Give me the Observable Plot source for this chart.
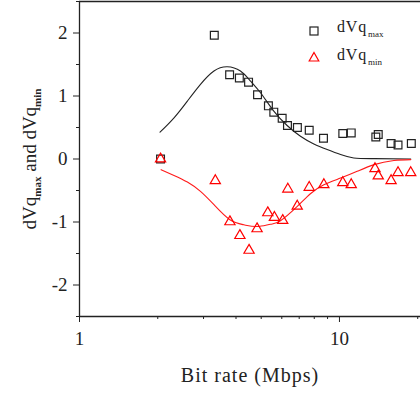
<!DOCTYPE html>
<html>
<head>
<meta charset="utf-8">
<script src="https://cdn.jsdelivr.net/npm/d3@7"></script>
<script src="https://cdn.jsdelivr.net/npm/@observablehq/plot@0.6"></script>
<style>
  html, body { margin: 0; padding: 0; background: #fff; }
  #wrap { position: relative; width: 420px; height: 394px; overflow: hidden; font-family: "Liberation Serif", "Times New Roman", serif; }
  .leg { position: absolute; font-size: 16px; color: #222; letter-spacing: 0.8px; white-space: nowrap; }
  .leg sub { font-size: 9px; vertical-align: -5px; letter-spacing: 0; margin-left: 1px; }
  .sym { position: absolute; }
</style>
</head>
<body>
<div id="wrap"></div>
<script>
// Bit rate (Mbps) of measured points
const maxX = [2.05, 3.30, 3.78, 4.12, 4.47, 4.84, 5.33, 5.59, 6.02, 6.31, 6.89, 7.65, 8.68, 10.3, 11.1, 14.1, 13.8, 15.8, 16.8, 18.9];
const maxY = [0.0, 1.965, 1.338, 1.285, 1.22, 1.02, 0.844, 0.744, 0.648, 0.532, 0.50, 0.457, 0.33, 0.404, 0.414, 0.388, 0.35, 0.245, 0.223, 0.245];

const minX = [2.05, 3.33, 3.79, 4.14, 4.49, 4.82, 5.30, 5.62, 6.05, 6.33, 6.88, 7.65, 8.71, 10.3, 11.1, 13.7, 14.1, 15.8, 16.8, 18.8];
const minY = [0.0, -0.344, -0.997, -1.215, -1.449, -1.108, -0.854, -0.928, -0.976, -0.478, -0.748, -0.45, -0.408, -0.376, -0.408, -0.153, -0.27, -0.344, -0.217, -0.217];

// fitted curves
const fitMaxX = [2.04, 2.31, 2.60, 2.92, 3.29, 3.70, 4.16, 4.55, 4.97, 5.59, 6.29, 7.08, 7.97, 8.97, 10.1, 11.35, 13.6, 18.8];
const fitMaxY = [0.425, 0.653, 0.919, 1.185, 1.397, 1.465, 1.397, 1.237, 1.051, 0.76, 0.532, 0.361, 0.239, 0.15, 0.07, 0.016, 0.006, 0.0];

const fitMinX = [2.06, 2.31, 2.60, 2.92, 3.29, 3.79, 4.29, 4.82, 5.43, 5.93, 6.88, 7.73, 8.71, 10.1, 11.7, 13.6, 16.2, 18.8];
const fitMinY = [-0.169, -0.26, -0.366, -0.514, -0.726, -0.965, -1.045, -1.072, -1.035, -0.981, -0.753, -0.551, -0.408, -0.303, -0.196, -0.089, -0.025, -0.01];

const xMajor = [1, 10];
const xMinor = [2, 3, 4, 5, 6, 7, 8, 9, 20];
const yMajor = [-2, -1, 0, 1, 2];
const yMinor = [-2.5, -1.5, -0.5, 0.5, 1.5, 2.5];

const xLabel = "Bit rate (Mbps)";
const seriesNames = ["max", "min"];

const zip = (xs, ys) => xs.map((x, i) => ({x, y: ys[i]}));
const ptsMax = zip(maxX, maxY);
const ptsMin = zip(minX, minY);
const curMax = zip(fitMaxX, fitMaxY);
const curMin = zip(fitMinX, fitMinY);

const chart = Plot.plot({
  width: 420,
  height: 394,
  marginLeft: 79,
  marginRight: 0,
  marginTop: 1,
  marginBottom: 78,
  style: { fontFamily: '"Liberation Serif", "Times New Roman", serif', fontSize: "19px", color: "#222", background: "#fff", overflow: "visible" },
  x: { type: "log", domain: [1, 20.5] },
  y: { domain: [-2.5, 2.5] },
  marks: [
    Plot.axisX({ ticks: xMajor, tickSize: 6, tickPadding: 9, tickFormat: d => String(d), label: xLabel, labelAnchor: "center", labelOffset: 65, labelArrow: false, fontSize: 19 }),
    Plot.axisX({ ticks: xMinor, tickSize: 3, tickFormat: () => "", label: null }),
    Plot.axisY({ ticks: yMajor, tickSize: 6, tickPadding: 6, tickFormat: d => String(d), label: "dVq max and dVq min", labelAnchor: "center", labelOffset: 57, labelArrow: false, fontSize: 19 }),
    Plot.axisY({ ticks: yMinor, tickSize: 3, tickFormat: () => "", label: null }),
    Plot.ruleX([1], { stroke: "#222", strokeWidth: 1.3 }),
    Plot.ruleY([-2.5], { stroke: "#222", strokeWidth: 1.3 }),
    Plot.ruleY([2.5], { stroke: "#222", strokeWidth: 1.3 }),
    Plot.line(curMax, { x: "x", y: "y", curve: "natural", stroke: "#222", strokeWidth: 1.1 }),
    Plot.dot(ptsMax, { x: "x", y: "y", symbol: "square", r: 4.4, stroke: "#222", strokeWidth: 1.2, fill: "none" }),
    Plot.line(curMin, { x: "x", y: "y", curve: "natural", stroke: "#ff1a1a", strokeWidth: 1.1 }),
    Plot.dot(ptsMin, { x: "x", y: "y", symbol: "triangle", r: 3.8, stroke: "#ff0000", strokeWidth: 1.2, fill: "none" })
  ]
});

const wrap = document.getElementById("wrap");
wrap.appendChild(chart);

// x-axis label styling
const xlab = chart.querySelector('g[aria-label="x-axis label"] text');
if (xlab) {
  xlab.setAttribute("font-size", 20);
  xlab.style.fontSize = "20px";
  xlab.style.letterSpacing = "1px";
}

// y-axis label with subscripts
const ylab = chart.querySelector('g[aria-label="y-axis label"] text');
if (ylab) {
  ylab.textContent = "";
  const NS = "http://www.w3.org/2000/svg";
  const parts = [["dVq", 0, null], ["max", 5, 11], [" and dVq", -5, null], ["min", 5, 11]];
  for (const [t, dy, fs] of parts) {
    const ts = document.createElementNS(NS, "tspan");
    ts.textContent = t;
    if (dy) ts.setAttribute("dy", dy);
    if (fs) { ts.setAttribute("font-size", fs); ts.setAttribute("font-weight", "bold"); }
    ylab.appendChild(ts);
  }
}

// legend
const legend = [
  { name: seriesNames[0], top: 18, sym: '<rect x="2" y="2" width="8" height="8" fill="none" stroke="#222" stroke-width="1.2"/>', symTop: 23 },
  { name: seriesNames[1], top: 46, sym: '<path d="M6,1.5 L10.8,10 L1.2,10 Z" fill="none" stroke="#ff0000" stroke-width="1.2"/>', symTop: 49 }
];
for (const l of legend) {
  const s = document.createElement("div");
  s.className = "sym";
  s.style.left = "308px";
  s.style.top = l.symTop + "px";
  s.innerHTML = '<svg width="12" height="12">' + l.sym + '</svg>';
  wrap.appendChild(s);
  const t = document.createElement("div");
  t.className = "leg";
  t.style.left = "337px";
  t.style.top = l.top + "px";
  t.innerHTML = 'dVq<sub>' + l.name + '</sub>';
  wrap.appendChild(t);
}
</script>
</body>
</html>
